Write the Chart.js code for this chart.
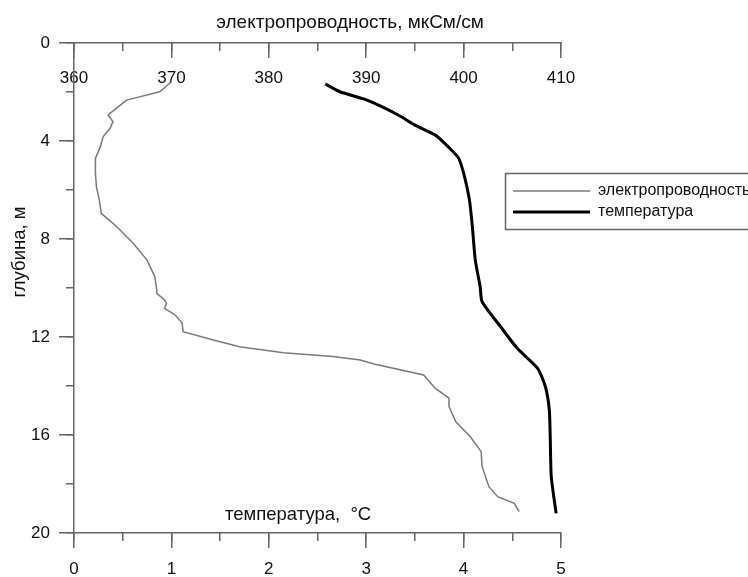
<!DOCTYPE html>
<html><head><meta charset="utf-8">
<style>html,body{margin:0;padding:0;background:#fff;overflow:hidden}</style>
<script src="https://cdn.jsdelivr.net/npm/chart.js@4.4.1/dist/chart.umd.min.js"></script>
</head><body>
<canvas id="c" width="748" height="577"></canvas>
<script>
// ---- data ----
const condDepth = [1.58,1.99,2.26,2.33,2.87,2.94,3.21,3.48,3.82,4.23,4.71,5.32,5.86,6.41,6.95,7.16,7.50,8.18,8.86,9.54,10.08,10.22,10.49,10.63,10.83,11.10,11.44,11.78,12.12,12.40,12.64,12.80,12.94,13.10,13.55,14.10,14.50,14.84,15.46,16.07,16.68,17.29,18.11,18.52,18.79,19.13];
const condValues = [370.0,368.8,366.1,365.4,363.7,363.5,364.0,363.7,363.0,362.7,362.2,362.2,362.3,362.6,362.8,363.4,364.4,366.1,367.5,368.3,368.5,368.5,369.3,369.5,369.3,370.4,371.1,371.2,374.3,377.0,381.5,386.6,389.4,390.8,395.9,397.1,398.5,398.5,399.2,400.7,401.8,401.9,402.6,403.5,405.2,405.7];
const tempDepth = [1.67,1.99,2.30,2.60,3.01,3.35,3.76,4.23,4.71,5.46,6.41,7.50,8.86,9.95,10.56,11.58,12.46,13.28,14.03,14.98,16.2,17.7,19.2];
const tempValues = [2.58,2.73,2.99,3.16,3.36,3.50,3.71,3.84,3.95,4.01,4.06,4.09,4.12,4.17,4.19,4.38,4.55,4.76,4.84,4.88,4.89,4.90,4.95];

const condTicks = [360,370,380,390,400,410];
const condMinorTicks = [360,365,370,375,380,385,390,395,400,405,410];
const tempTicks = [0,1,2,3,4,5];
const tempMinorTicks = [0,0.5,1,1.5,2,2.5,3,3.5,4,4.5,5];
const depthTicks = [0,4,8,12,16,20];
const depthMinorTicks = [0,2,4,6,8,10,12,14,16,18,20];

const seriesLabels = ['электропроводность','температура'];
const condTitle = 'электропроводность, мкСм/см';
const tempTitle = 'температура,  °C';
const depthTitle = 'глубина, м';

// ---- styles ----
const FONT = '"Liberation Sans", Arial, sans-serif';
const AXIS = '#666666';
const TL = 15, TLm = 8;
const tickFont = {family: FONT, size: 17};

function setTicks(arr){ return s => { s.ticks = arr.map(v => ({value: v})); }; }
function fixW(w){ return s => { s.width = w; }; }
function fixH(h){ return s => { s.height = h; }; }

const decor = {
  id: 'decor',
  afterDraw(chart) {
    const ctx = chart.ctx;
    const a = chart.chartArea;
    ctx.save();
    ctx.fillStyle = '#111';
    ctx.textBaseline = 'middle';
    ctx.textAlign = 'center';
    ctx.font = '19px ' + FONT;
    ctx.fillText(condTitle, a.left + 276, a.top - 20);
    ctx.font = '18.5px ' + FONT;
    ctx.textAlign = 'left';
    ctx.fillText(tempTitle, a.left + 151, a.bottom - 18);
    ctx.save();
    ctx.translate(20, a.top + 209);
    ctx.rotate(-Math.PI / 2);
    ctx.textAlign = 'center';
    ctx.fillText(depthTitle, 0, 0);
    ctx.restore();
    // legend
    const lx = 505, ly = 173;
    ctx.strokeStyle = AXIS; ctx.lineWidth = 1.5;
    ctx.strokeRect(lx + 0.5, ly + 0.5, 270, 56);
    chart.data.datasets.forEach((ds, i) => {
      const y = ly + 18 + i * 21;
      ctx.beginPath();
      ctx.strokeStyle = ds.borderColor; ctx.lineWidth = ds.borderWidth;
      ctx.moveTo(lx + 8, y); ctx.lineTo(lx + 85, y); ctx.stroke();
      ctx.fillStyle = '#111';
      ctx.font = '16px ' + FONT;
      ctx.textAlign = 'left';
      ctx.fillText(ds.label, lx + 93, y);
    });
    ctx.restore();
  }
};

new Chart(document.getElementById('c'), {
  type: 'scatter',
  data: {
    datasets: [
      { label: seriesLabels[0], data: condDepth.map((d, i) => ({x: condValues[i], y: d})),
        xAxisID: 'xC', yAxisID: 'y', showLine: true, pointRadius: 0, borderColor: '#7a7a7a', borderWidth: 1.5, tension: 0 },
      { label: seriesLabels[1], data: tempDepth.map((d, i) => ({x: tempValues[i], y: d})),
        xAxisID: 'xT', yAxisID: 'y', showLine: true, pointRadius: 0, borderColor: '#000000', borderWidth: 3, tension: 0.2 }
    ]
  },
  options: {
    responsive: false, animation: false, devicePixelRatio: 1,
    layout: { padding: { left: 0, top: 0, right: 187, bottom: 0 } },
    plugins: { legend: { display: false }, tooltip: { enabled: false } },
    scales: {
      xC: { type: 'linear', position: 'top', min: 360, max: 410, weight: 1,
        afterBuildTicks: setTicks(condTicks), afterFit: fixH(43),
        grid: { drawOnChartArea: false, drawTicks: true, tickLength: -TL, color: AXIS, lineWidth: 1.5 },
        border: { display: true, color: AXIS, width: 1.5 },
        ticks: { autoSkip: false, maxRotation: 0, mirror: true, padding: 25, color: '#111', font: tickFont } },
      xCm: { type: 'linear', position: 'top', min: 360, max: 410, weight: 0,
        afterBuildTicks: setTicks(condMinorTicks), afterFit: fixH(0),
        grid: { drawOnChartArea: false, drawTicks: true, tickLength: -TLm, color: AXIS, lineWidth: 1.5 },
        border: { display: false }, ticks: { display: false } },
      xT: { type: 'linear', position: 'bottom', min: 0, max: 5, weight: 1,
        afterBuildTicks: setTicks(tempTicks), afterFit: fixH(44),
        grid: { drawOnChartArea: false, drawTicks: true, tickLength: TL, color: AXIS, lineWidth: 1.5 },
        border: { display: true, color: AXIS, width: 1.5 },
        ticks: { autoSkip: false, maxRotation: 0, padding: 11, color: '#111', font: tickFont } },
      xTm: { type: 'linear', position: 'bottom', min: 0, max: 5, weight: 0,
        afterBuildTicks: setTicks(tempMinorTicks), afterFit: fixH(0),
        grid: { drawOnChartArea: false, drawTicks: true, tickLength: TLm, color: AXIS, lineWidth: 1.5 },
        border: { display: false }, ticks: { display: false } },
      y: { type: 'linear', position: 'left', min: 0, max: 20, reverse: true, weight: 1,
        afterBuildTicks: setTicks(depthTicks), afterFit: fixW(74),
        grid: { drawOnChartArea: false, drawTicks: true, tickLength: TL, color: AXIS, lineWidth: 1.5 },
        border: { display: true, color: AXIS, width: 1.5 },
        ticks: { autoSkip: false, padding: 9, color: '#111', font: tickFont } },
      ym: { type: 'linear', position: 'left', min: 0, max: 20, reverse: true, weight: 0,
        afterBuildTicks: setTicks(depthMinorTicks), afterFit: fixW(0),
        grid: { drawOnChartArea: false, drawTicks: true, tickLength: TLm, color: AXIS, lineWidth: 1.5 },
        border: { display: false }, ticks: { display: false } }
    }
  },
  plugins: [decor]
});
</script>
</body></html>
